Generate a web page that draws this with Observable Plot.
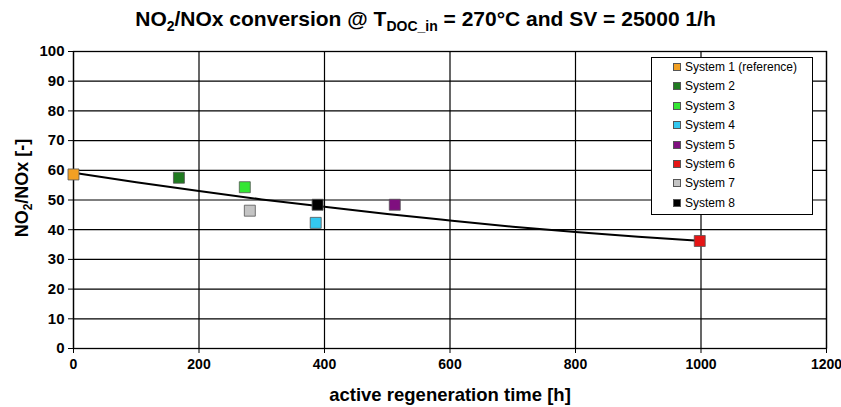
<!DOCTYPE html>
<html><head><meta charset="utf-8">
<script src="https://cdn.jsdelivr.net/npm/d3@7"></script>
<script src="https://cdn.jsdelivr.net/npm/@observablehq/plot@0.6"></script>
<style>
body{margin:0;background:#fff;font-family:"Liberation Sans",Arial,sans-serif;}
#wrap{position:relative;width:841px;height:407px;}
#title{position:absolute;left:0;top:7px;width:851px;text-align:center;font-weight:bold;font-size:21px;}
#title sub{font-size:14px;vertical-align:-5px;line-height:0;}
#chart{position:absolute;left:0;top:40px;}
#legend{position:absolute;left:651px;top:57px;width:162px;height:158px;border:1.5px solid #000;background:#fff;box-sizing:border-box;font-size:12px;}
#legend .row{position:absolute;left:21px;height:14px;line-height:14px;white-space:nowrap;}
#legend .sw{display:inline-block;width:6px;height:6px;border:0.8px solid #555;margin-right:4px;vertical-align:0px;}
#ylab{position:absolute;left:22px;top:188px;transform:translate(-50%,-50%) rotate(-90deg);font-weight:bold;font-size:18px;white-space:nowrap;}
#ylab sub{font-size:12px;vertical-align:-4px;line-height:0;}
</style></head>
<body><div id="wrap">
<div id="title">NO<sub>2</sub>/NOx conversion @ T<sub>DOC_in</sub> = 270°C and SV = 25000 1/h</div>
<div id="chart"></div>
<div id="ylab">NO<sub>2</sub>/NOx [-]</div>
<div id="legend"></div>
</div>
<script>
const systems = ["System 1 (reference)","System 2","System 3","System 4","System 5","System 6","System 7","System 8"];
const hours = [0, 168, 273, 386, 512, 998, 281, 389];
const ratio = [58.6, 57.5, 54.3, 42.3, 48.4, 36.2, 46.4, 48.4];
const colors = ["#F2A023","#1F7A20","#33E633","#33C8F0","#7F0F7F","#E51515","#C4C4C4","#000000"];
const trendHours = [0,100,200,300,400,500,600,700,800,900,1000];
const trendRatio = [59.2,56.0,53.0,50.2,47.7,45.3,43.1,41.0,39.2,37.6,36.2];
const xTicks = [0,200,400,600,800,1000,1200];
const yTicks = [0,10,20,30,40,50,60,70,80,90,100];

const pts = systems.map((s,i)=>({s, x:hours[i], y:ratio[i], c:colors[i]}));
const trend = trendHours.map((x,i)=>({x, y:trendRatio[i]}));

const chart = Plot.plot({
  width: 841, height: 367,
  marginLeft: 73, marginRight: 15, marginTop: 11, marginBottom: 59,
  style: {fontFamily: "Liberation Sans, Arial, sans-serif", fontSize: "15px", fontWeight: "bold", color: "#000", background: "transparent", overflow: "visible"},
  x: {domain: [0,1200]},
  y: {domain: [0,100]},
  marks: [
    Plot.gridX(xTicks, {stroke: "#000", strokeOpacity: 1, strokeWidth: 1.2}),
    Plot.gridY(yTicks, {stroke: "#000", strokeOpacity: 1, strokeWidth: 1.2}),
    Plot.frame({stroke: "#000", strokeWidth: 1.3}),
    Plot.axisX({ticks: xTicks, tickSize: 5, tickPadding: 6, tickFormat: d => String(d), label: "active regeneration time [h]", labelAnchor: "center", labelArrow: "none", labelOffset: 52, fontSize: 14}),
    Plot.axisY({ticks: yTicks, tickSize: 5, tickPadding: 4, tickFormat: d => String(d), label: null, fontSize: 15}),
    Plot.line(trend, {x: "x", y: "y", curve: "natural", stroke: "#000", strokeWidth: 2}),
    Plot.dot(pts, {x: "x", y: "y", symbol: "square", r: 6.2, fill: d => d.c, stroke: "#555", strokeWidth: 0.8})
  ]
});
d3.select(chart).selectAll("g[aria-label='x-axis label'] text").style("font-size","18.5px");
document.getElementById("chart").appendChild(chart);

const leg = document.getElementById("legend");
systems.forEach((s,i)=>{
  const r = document.createElement("div");
  r.className = "row";
  r.style.top = (2 + i*19.4) + "px";
  r.innerHTML = `<span class="sw" style="background:${colors[i]}"></span>${s}`;
  leg.appendChild(r);
});
</script>
</body></html>
